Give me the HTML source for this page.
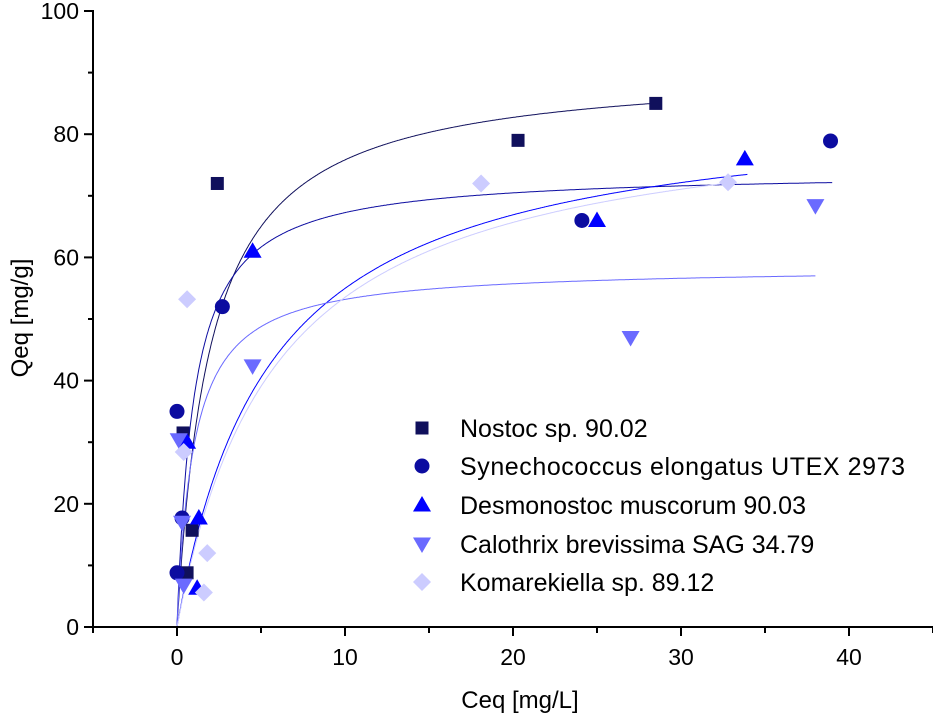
<!DOCTYPE html>
<html><head><meta charset="utf-8"><style>body{margin:0;background:#fff}svg{display:block}text{font-family:"Liberation Sans",Arial,sans-serif}</style></head>
<body>
<svg id="chart" width="933" height="717"></svg>
<script>
const seriesNames=["Nostoc sp. 90.02","Synechococcus elongatus UTEX 2973","Desmonostoc muscorum 90.03","Calothrix brevissima SAG 34.79","Komarekiella sp. 89.12"];
const colors=["#10105c","#0c0ca0","#0000ff","#6a6aff","#ccccff"];
const shapes=["square","circle","triangle","down","diamond"];
const xNostoc=[0.36,0.9,0.6,2.4,20.3,28.5];
const yNostoc=[31.5,15.7,8.8,72,79,85];
const xSyn=[2.7,0,0.3,0,24.1,38.9];
const ySyn=[52,35,17.7,8.8,66,78.9];
const xDes=[1.3,0.6,1.2,4.5,25,33.8];
const yDes=[17.7,30,6.3,61,66,76];
const xCal=[0.1,0.3,0.4,4.5,27,38];
const yCal=[30.4,17,6.8,42.4,47,68.4];
const xKom=[0.6,0.4,1.8,1.6,18.1,32.8];
const yKom=[53.2,28.4,12,5.6,72,72.2];
const fitQm=[91,74,85.5,58.5,85];
const fitK=[0.5,1,0.18,1,0.17];
const fitEnd=[28.5,39,34,38,33];
const xTicks=[0,10,20,30,40];
const yTicks=[0,20,40,60,80,100];
const X=v=>177+v*16.8, Y=v=>627-v*6.16;
const svg=document.getElementById('chart');
const NS='http://www.w3.org/2000/svg';
function el(t,a,p){const e=document.createElementNS(NS,t);for(const k in a)e.setAttribute(k,a[k]);(p||svg).appendChild(e);return e;}
function marker(s,cx,cy,c,g){
 let e;
 if(s==="square")e=el('rect',{x:cx-6.5,y:cy-6.5,width:13,height:13,fill:c},g);
 else if(s==="circle")e=el('circle',{cx:cx,cy:cy,r:7.5,fill:c},g);
 else if(s==="triangle")e=el('polygon',{points:`${cx},${cy-9} ${cx+9},${cy+6.5} ${cx-9},${cy+6.5}`,fill:c},g);
 else if(s==="down")e=el('polygon',{points:`${cx},${cy+9} ${cx+9},${cy-6.5} ${cx-9},${cy-6.5}`,fill:c},g);
 else e=el('polygon',{points:`${cx},${cy-9} ${cx+9},${cy} ${cx},${cy+9} ${cx-9},${cy}`,fill:c},g);
 return e;
}
for(let i=0;i<5;i++){
 let d='';
 for(let c=0;c<=fitEnd[i];c+=0.05){const q=fitQm[i]*fitK[i]*c/(1+fitK[i]*c);d+=(d?'L':'M')+X(c).toFixed(1)+','+Y(q).toFixed(1);}
 const p=el('path',{d:d,fill:'none',stroke:colors[i],'stroke-width':1});
 
 
}
const xs=[xNostoc,xSyn,xDes,xCal,xKom], ys=[yNostoc,ySyn,yDes,yCal,yKom];
for(let i=0;i<5;i++){
 const g=el('g',{});
 
 
 xs[i].forEach((v,j)=>{const m=marker(shapes[i],X(v),Y(ys[i][j]),colors[i],g);
  
  });
}
const ax=el('g',{stroke:'#000','stroke-width':2});


el('line',{x1:93,y1:10,x2:93,y2:628},ax);
el('line',{x1:92,y1:627,x2:933,y2:627},ax);
for(let v=-5;v<=45;v+=5){const major=v%10===0;el('line',{x1:X(v),y1:627,x2:X(v),y2:major?636:633},ax);}
for(let v=0;v<=100;v+=10){const major=v%20===0;el('line',{x1:84+(major?0:4),y1:Y(v),x2:93,y2:Y(v)},ax);}
xTicks.forEach(v=>{const t=el('text',{x:X(v),y:665,'text-anchor':'middle','font-size':23});t.textContent=v;
 
 });
yTicks.forEach(v=>{const t=el('text',{x:79,y:Y(v)+8,'text-anchor':'end','font-size':23});t.textContent=v;
 
 });
const xt=el('text',{x:520,y:708,'text-anchor':'middle','font-size':24});xt.textContent='Ceq [mg/L]';


const yt=el('text',{x:0,y:0,'text-anchor':'middle','font-size':24,transform:'translate(28,318) rotate(-90)'});yt.textContent='Qeq [mg/g]';


const lg=el('g',{});


const ly=[428,466,505,544,582];
for(let i=0;i<5;i++){
 const e=el('g',{},lg);
 
 
 marker(shapes[i],422,ly[i],colors[i],e);
 const t=el('text',{x:460,y:ly[i]+9,'font-size':25,textLength:i===1?445:null},e);
 if(i!==1)t.removeAttribute('textLength');
 t.textContent=seriesNames[i];
}
</script>
</body></html>
